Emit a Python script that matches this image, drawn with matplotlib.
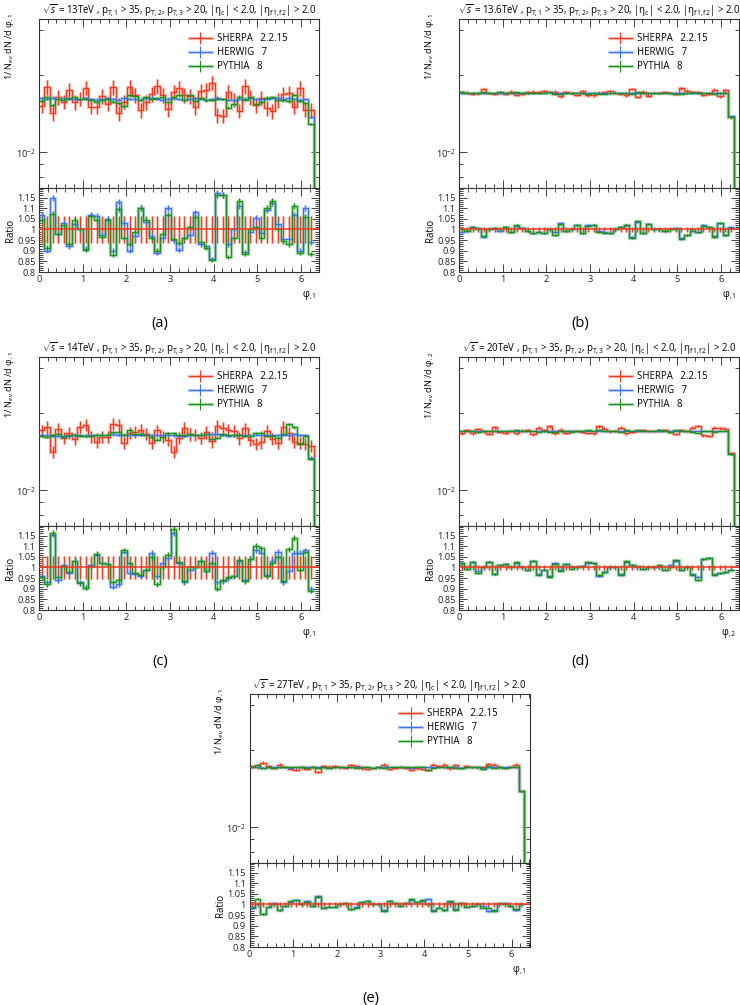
import numpy as np
import matplotlib
matplotlib.use("Agg")
import matplotlib.pyplot as plt
from matplotlib.lines import Line2D
from matplotlib.ticker import MultipleLocator, FixedLocator, NullFormatter, FuncFormatter

plt.rcParams['font.family'] = ['Open Sans', 'DejaVu Sans']
plt.rcParams['mathtext.fontset'] = 'custom'
plt.rcParams['mathtext.rm'] = 'Open Sans'
plt.rcParams['mathtext.it'] = 'Open Sans:italic'
plt.rcParams['mathtext.bf'] = 'Open Sans:bold'

# ---------------- data ----------------
n_bins = 50
phi_max = 2 * np.pi
generators = ["SHERPA   2.2.15", "HERWIG   7", "PYTHIA   8"]
panel_labels = ["(a)", "(b)", "(c)", "(d)", "(e)"]
energies = ["13TeV", "13.6TeV", "14TeV", "20TeV", "27TeV"]
variables = ["1", "1", "1", "2", "1"]
x_ticks = [0, 1, 2, 3, 4, 5, 6]
ratio_ticks = [0.8, 0.85, 0.9, 0.95, 1.0, 1.05, 1.1, 1.15]

# HERWIG 7 normalised distributions (main panels)
herwig_a = [0.01625, 0.01615, 0.01630, 0.01605, 0.01620, 0.01610, 0.01605, 0.01615, 0.01620, 0.01610,
            0.01600, 0.01610, 0.01620, 0.01610, 0.01600, 0.01620, 0.01610, 0.01615, 0.01600, 0.01620,
            0.01630, 0.01610, 0.01600, 0.01615, 0.01625, 0.01610, 0.01600, 0.01610, 0.01620, 0.01610,
            0.01600, 0.01605, 0.01630, 0.01610, 0.01595, 0.01600, 0.01610, 0.01615, 0.01620, 0.01610,
            0.01605, 0.01615, 0.01625, 0.01630, 0.01610, 0.01620, 0.01610, 0.01600, 0.01610, 0.01370]
herwig_b = [0.01700, 0.01695, 0.01700, 0.01705, 0.01700, 0.01700, 0.01695, 0.01700, 0.01700, 0.01705,
            0.01700, 0.01700, 0.01700, 0.01695, 0.01700, 0.01705, 0.01710, 0.01705, 0.01700, 0.01700,
            0.01700, 0.01705, 0.01700, 0.01700, 0.01700, 0.01695, 0.01700, 0.01700, 0.01705, 0.01700,
            0.01700, 0.01700, 0.01700, 0.01695, 0.01700, 0.01700, 0.01700, 0.01705, 0.01700, 0.01700,
            0.01700, 0.01695, 0.01700, 0.01700, 0.01705, 0.01700, 0.01700, 0.01700, 0.01700, 0.01380]
herwig_c = [0.01640, 0.01635, 0.01630, 0.01625, 0.01620, 0.01630, 0.01635, 0.01640, 0.01630, 0.01635,
            0.01640, 0.01645, 0.01640, 0.01650, 0.01645, 0.01640, 0.01635, 0.01640, 0.01645, 0.01640,
            0.01635, 0.01640, 0.01645, 0.01640, 0.01635, 0.01630, 0.01625, 0.01635, 0.01640, 0.01645,
            0.01655, 0.01660, 0.01650, 0.01640, 0.01630, 0.01635, 0.01640, 0.01635, 0.01630, 0.01640,
            0.01645, 0.01640, 0.01635, 0.01640, 0.01645, 0.01640, 0.01650, 0.01640, 0.01635, 0.01340]
herwig_d = [0.01700, 0.01700, 0.01705, 0.01700, 0.01695, 0.01700, 0.01705, 0.01700, 0.01700, 0.01700,
            0.01700, 0.01705, 0.01700, 0.01700, 0.01700, 0.01695, 0.01700, 0.01700, 0.01705, 0.01700,
            0.01700, 0.01700, 0.01700, 0.01705, 0.01700, 0.01700, 0.01700, 0.01695, 0.01700, 0.01700,
            0.01705, 0.01700, 0.01700, 0.01700, 0.01700, 0.01700, 0.01705, 0.01700, 0.01700, 0.01705,
            0.01700, 0.01700, 0.01700, 0.01700, 0.01700, 0.01700, 0.01700, 0.01700, 0.01700, 0.01380]
herwig_e = [0.01710, 0.01710, 0.01705, 0.01710, 0.01710, 0.01710, 0.01710, 0.01705, 0.01710, 0.01710,
            0.01710, 0.01710, 0.01710, 0.01710, 0.01705, 0.01710, 0.01710, 0.01710, 0.01710, 0.01710,
            0.01710, 0.01710, 0.01705, 0.01710, 0.01710, 0.01710, 0.01710, 0.01710, 0.01710, 0.01705,
            0.01710, 0.01710, 0.01710, 0.01710, 0.01710, 0.01710, 0.01710, 0.01710, 0.01705, 0.01710,
            0.01710, 0.01710, 0.01700, 0.01710, 0.01710, 0.01710, 0.01710, 0.01710, 0.01710, 0.01380]

# ratios to SHERPA (ratio panels)
ratio_herwig_a = [1.07, 0.90, 1.15, 0.98, 1.03, 0.92, 1.025, 1.00, 0.91, 1.07,
                  1.065, 0.975, 1.05, 0.90, 1.13, 1.03, 0.90, 0.97, 1.10, 1.035,
                  0.97, 0.89, 0.96, 1.10, 0.95, 0.905, 0.96, 0.975, 1.08, 0.93,
                  0.92, 0.86, 1.17, 1.16, 0.93, 1.00, 1.11, 0.895, 0.99, 1.055,
                  0.985, 1.09, 1.125, 1.025, 0.955, 0.955, 1.07, 0.90, 1.10, 0.94]
ratio_pythia_a = [1.045, 0.915, 1.075, 0.98, 1.02, 0.93, 1.045, 1.00, 0.905, 1.065,
                  1.045, 0.965, 1.045, 0.88, 1.095, 0.96, 0.93, 0.99, 1.10, 1.045,
                  0.96, 0.90, 0.98, 1.07, 0.955, 0.935, 0.96, 1.01, 1.06, 0.94,
                  0.915, 0.855, 1.16, 1.16, 0.87, 0.96, 1.135, 0.885, 1.00, 1.01,
                  0.96, 1.10, 1.135, 1.00, 0.945, 0.93, 1.11, 0.89, 1.06, 0.885]
ratio_herwig_b = [0.99, 0.995, 1.01, 1.005, 0.965, 1.0, 1.005, 0.995, 1.01, 0.99,
                  1.015, 1.005, 0.995, 0.985, 0.99, 0.985, 1.0, 0.99, 1.03, 0.995,
                  1.0, 1.02, 0.985, 1.02, 1.02, 0.995, 0.99, 0.985, 1.0, 1.01,
                  1.02, 0.965, 1.035, 0.985, 1.025, 1.0, 1.0, 0.995, 1.0, 1.005,
                  0.96, 0.975, 0.995, 0.99, 1.02, 1.01, 0.97, 1.03, 0.975, 1.01]
ratio_pythia_b = [1.0, 0.995, 1.01, 1.0, 0.97, 1.0, 1.005, 1.0, 1.01, 0.99,
                  1.02, 1.005, 0.995, 0.985, 0.99, 0.985, 1.0, 0.975, 1.025, 0.995,
                  1.0, 1.02, 0.985, 1.015, 1.02, 0.99, 0.985, 0.985, 1.0, 1.01,
                  1.02, 0.96, 1.04, 0.985, 1.025, 1.0, 1.0, 0.995, 1.0, 1.0,
                  0.955, 0.975, 1.0, 0.99, 1.015, 1.01, 0.965, 1.03, 0.975, 1.005]
ratio_herwig_c = [0.96, 0.93, 1.155, 0.94, 1.01, 0.975, 1.03, 0.93, 0.905, 1.01,
                  1.06, 1.02, 1.015, 0.91, 0.92, 1.075, 0.975, 0.97, 0.96, 0.99,
                  1.07, 0.96, 1.02, 1.045, 1.16, 1.02, 0.93, 0.99, 1.0, 1.03,
                  0.985, 1.07, 0.93, 0.935, 0.95, 0.96, 1.03, 0.94, 1.04, 1.08,
                  1.07, 0.965, 1.03, 1.075, 0.93, 0.985, 1.07, 1.07, 1.08, 0.90]
ratio_pythia_c = [0.955, 0.92, 1.16, 0.955, 1.005, 0.98, 1.03, 0.925, 0.905, 1.005,
                  1.065, 1.02, 1.015, 0.93, 0.94, 1.08, 1.02, 0.975, 0.965, 0.99,
                  1.05, 0.92, 1.0, 1.06, 1.18, 1.025, 0.935, 1.0, 1.0, 1.03,
                  0.985, 1.02, 0.90, 0.94, 0.955, 0.96, 1.035, 0.935, 1.04, 1.10,
                  1.09, 0.96, 1.02, 1.05, 0.935, 1.085, 1.14, 0.99, 1.075, 0.89]
ratio_herwig_d = [1.02, 0.995, 1.025, 0.985, 1.0, 1.025, 0.97, 1.01, 1.015, 1.0,
                  1.02, 1.0, 0.99, 1.03, 0.97, 0.99, 0.96, 1.02, 0.99, 1.015,
                  1.0, 1.0, 1.005, 1.02, 1.02, 0.96, 0.98, 1.0, 1.0, 0.97,
                  1.025, 1.01, 1.0, 0.995, 1.0, 1.0, 1.0, 0.99, 1.01, 1.03,
                  0.99, 1.0, 0.97, 0.955, 1.04, 1.045, 0.97, 0.975, 0.98, 0.99]
ratio_pythia_d = [1.02, 0.995, 1.025, 0.975, 1.0, 1.025, 0.97, 1.01, 1.015, 1.0,
                  1.025, 1.0, 0.99, 1.03, 0.965, 0.99, 0.955, 1.015, 0.985, 1.015,
                  0.995, 1.0, 1.005, 1.025, 1.02, 0.965, 0.98, 1.0, 1.0, 0.965,
                  1.03, 1.01, 1.005, 0.995, 1.0, 1.0, 1.01, 0.99, 1.0, 1.035,
                  0.99, 1.0, 0.965, 0.94, 1.04, 1.045, 0.965, 0.975, 0.98, 0.99]
ratio_herwig_e = [0.985, 1.0, 0.955, 0.99, 1.005, 0.975, 0.995, 1.01, 1.02, 1.0,
                  1.015, 0.995, 1.04, 0.985, 0.99, 0.99, 1.0, 1.005, 0.98, 0.99,
                  1.01, 1.015, 1.0, 1.0, 0.975, 1.015, 1.005, 0.995, 1.005, 1.02,
                  1.01, 1.015, 1.025, 0.975, 0.985, 0.975, 1.01, 0.98, 1.005, 0.99,
                  0.995, 1.0, 0.995, 0.97, 0.975, 1.0, 1.005, 0.995, 0.975, 1.0]
ratio_pythia_e = [0.99, 1.025, 0.955, 0.99, 1.0, 0.975, 0.995, 1.015, 1.02, 1.0,
                  1.01, 0.995, 1.035, 0.985, 0.99, 0.99, 1.0, 1.005, 0.98, 0.985,
                  1.01, 1.015, 1.0, 1.0, 0.97, 1.015, 1.005, 0.995, 1.005, 1.025,
                  1.01, 1.02, 1.0, 0.97, 0.985, 0.975, 1.015, 0.975, 1.005, 0.99,
                  0.995, 1.0, 0.985, 0.985, 0.97, 1.005, 1.0, 0.995, 0.98, 1.0]

# relative statistical uncertainties (SHERPA, HERWIG/PYTHIA)
sherpa_rel_err = [0.065, 0.012, 0.055, 0.012, 0.010]
other_rel_err = [0.012, 0.005, 0.012, 0.004, 0.004]

herwig_all = [herwig_a, herwig_b, herwig_c, herwig_d, herwig_e]
ratio_h_all = [ratio_herwig_a, ratio_herwig_b, ratio_herwig_c, ratio_herwig_d, ratio_herwig_e]
ratio_p_all = [ratio_pythia_a, ratio_pythia_b, ratio_pythia_c, ratio_pythia_d, ratio_pythia_e]

# ---------------- style ----------------
RED, RED_L = "#ee3b24", "#f7a292"
BLUE, BLUE_L = "#3f72ec", "#a3bdf5"
GREEN, GREEN_L = "#1f8f1f", "#8fd08f"
FS = 6.9

W, H = 740.0, 1005.0
panel_pos = [(39, 19), (459, 19), (39, 357), (459, 357), (249.5, 694)]
AX_W, MAIN_H, RAT_H = 280.0, 169.0, 84.0

edges = np.linspace(0, phi_max, n_bins + 1)
centers = 0.5 * (edges[:-1] + edges[1:])
x_max = phi_max * (n_bins + 1) / n_bins
main_ylim = (7.26e-3, 3.30e-2)
ratio_ylim = (0.8, 1.195)

fig = plt.figure(figsize=(W / 100, H / 100), dpi=100)


def style_axes(ax):
    ax.tick_params(which='both', direction='in', top=True, right=True, labelsize=FS - 0.2,
                   width=0.6, colors='#222222', pad=2.5)
    ax.tick_params(which='major', length=5.5)
    ax.tick_params(which='minor', length=2.8)
    for s in ax.spines.values():
        s.set_linewidth(0.8)
        s.set_color('#333333')


def glow_stairs(ax, vals, col, light, lw_thin=0.9):
    ax.stairs(vals, edges, baseline=None, color=light, lw=2.4, alpha=0.6, zorder=2)
    ax.stairs(vals, edges, baseline=None, color=col, lw=lw_thin, zorder=3)


def err_bars(ax, y, e, col, light):
    ax.vlines(centers, y - e, y + e, color=light, lw=2.2, alpha=0.7, zorder=2)
    ax.vlines(centers, y - e, y + e, color=col, lw=0.7, zorder=3)


for k in range(5):
    left, top = panel_pos[k]
    ax_m = fig.add_axes([left / W, 1 - (top + MAIN_H) / H, AX_W / W, MAIN_H / H])
    ax_r = fig.add_axes([left / W, 1 - (top + MAIN_H + RAT_H) / H, AX_W / W, RAT_H / H])

    herwig = np.array(herwig_all[k])
    rh = np.array(ratio_h_all[k])
    rp = np.array(ratio_p_all[k])
    sherpa = herwig / rh
    pythia = sherpa * rp
    es, eo = sherpa_rel_err[k], other_rel_err[k]

    series = [(sherpa, RED, RED_L, es), (herwig, BLUE, BLUE_L, eo), (pythia, GREEN, GREEN_L, eo)]
    # ---- main panel ----
    for vals, col, light, e in series:
        glow_stairs(ax_m, vals, col, light)
        err_bars(ax_m, vals, vals * e, col, light)
        ax_m.plot([phi_max, phi_max], [vals[-1], main_ylim[0] * 0.5], color=light, lw=2.4, alpha=0.6, zorder=2)
        ax_m.plot([phi_max, phi_max], [vals[-1], main_ylim[0] * 0.5], color=col, lw=0.9, zorder=3)
    ax_m.set_yscale('log')
    ax_m.set_xlim(0, x_max)
    ax_m.set_ylim(*main_ylim)
    ax_m.yaxis.set_major_locator(FixedLocator([1e-2]))
    ax_m.yaxis.set_major_formatter(FuncFormatter(lambda v, p: r"$10^{-2}$"))
    ax_m.yaxis.set_minor_locator(FixedLocator([8e-3, 9e-3, 2e-2, 3e-2]))
    ax_m.yaxis.set_minor_formatter(NullFormatter())
    ax_m.xaxis.set_major_locator(FixedLocator(x_ticks))
    ax_m.xaxis.set_minor_locator(MultipleLocator(0.2))
    ax_m.set_xticklabels([])
    style_axes(ax_m)

    title = (r"$\sqrt{s}$ = " + energies[k] + r" , p$_{\mathrm{T,1}}$ > 35, p$_{\mathrm{T,2}}$, "
             r"p$_{\mathrm{T,3}}$ > 20, |η$_{\mathrm{c}}$| < 2.0, |η$_{\mathrm{f1,f2}}$| > 2.0")
    ax_m.set_title(title, fontsize=FS, pad=3)
    ax_m.set_ylabel("1/ N$_{ev}$ dN /d φ$_{,%s}$" % variables[k], fontsize=FS - 0.3, loc='top')
    ax_m.yaxis.set_label_coords(-0.083, 1.03)

    handles = []
    for (vals, col, light, e) in series:
        h_l = Line2D([], [], color=light, lw=2.4, alpha=0.6)
        h_d = Line2D([], [], color=col, lw=0.9, marker='|', markersize=8, mew=0.8)
        handles.append((h_l, h_d))
    ax_m.legend(handles, generators, loc='upper left', bbox_to_anchor=(0.535, 0.915),
                frameon=False, fontsize=FS, handlelength=2.4, handletextpad=0.5,
                labelspacing=0.3, borderaxespad=0, borderpad=0)

    # ---- ratio panel ----
    ax_r.plot([0, x_max], [1, 1], color=RED, lw=1.1, zorder=4)
    err_bars(ax_r, np.ones(n_bins), np.full(n_bins, es), RED, RED_L)
    for vals, col, light in [(rh, BLUE, BLUE_L), (rp, GREEN, GREEN_L)]:
        glow_stairs(ax_r, vals, col, light)
        err_bars(ax_r, vals, vals * eo, col, light)
    ax_r.set_xlim(0, x_max)
    ax_r.set_ylim(*ratio_ylim)
    ax_r.xaxis.set_major_locator(FixedLocator(x_ticks))
    ax_r.xaxis.set_major_formatter(FuncFormatter(lambda v, p: "%d" % round(v)))
    ax_r.xaxis.set_minor_locator(MultipleLocator(0.2))
    ax_r.yaxis.set_major_locator(FixedLocator(ratio_ticks))
    ax_r.yaxis.set_major_formatter(FuncFormatter(lambda v, p: "%g" % round(v, 3)))
    ax_r.yaxis.set_minor_locator(MultipleLocator(0.01))
    style_axes(ax_r)
    ax_r.set_ylabel("Ratio", fontsize=FS)
    ax_r.yaxis.set_label_coords(-0.083, 0.5)
    ax_r.set_xlabel("φ$_{,%s}$" % variables[k], fontsize=FS, loc='right')
    ax_r.xaxis.set_label_coords(0.99, -0.2)

    fig.text((left + 121) / W, 1 - (top + 304) / H, panel_labels[k], fontsize=10.5,
             ha='center', va='center')

fig.savefig("out.png", dpi=100)
